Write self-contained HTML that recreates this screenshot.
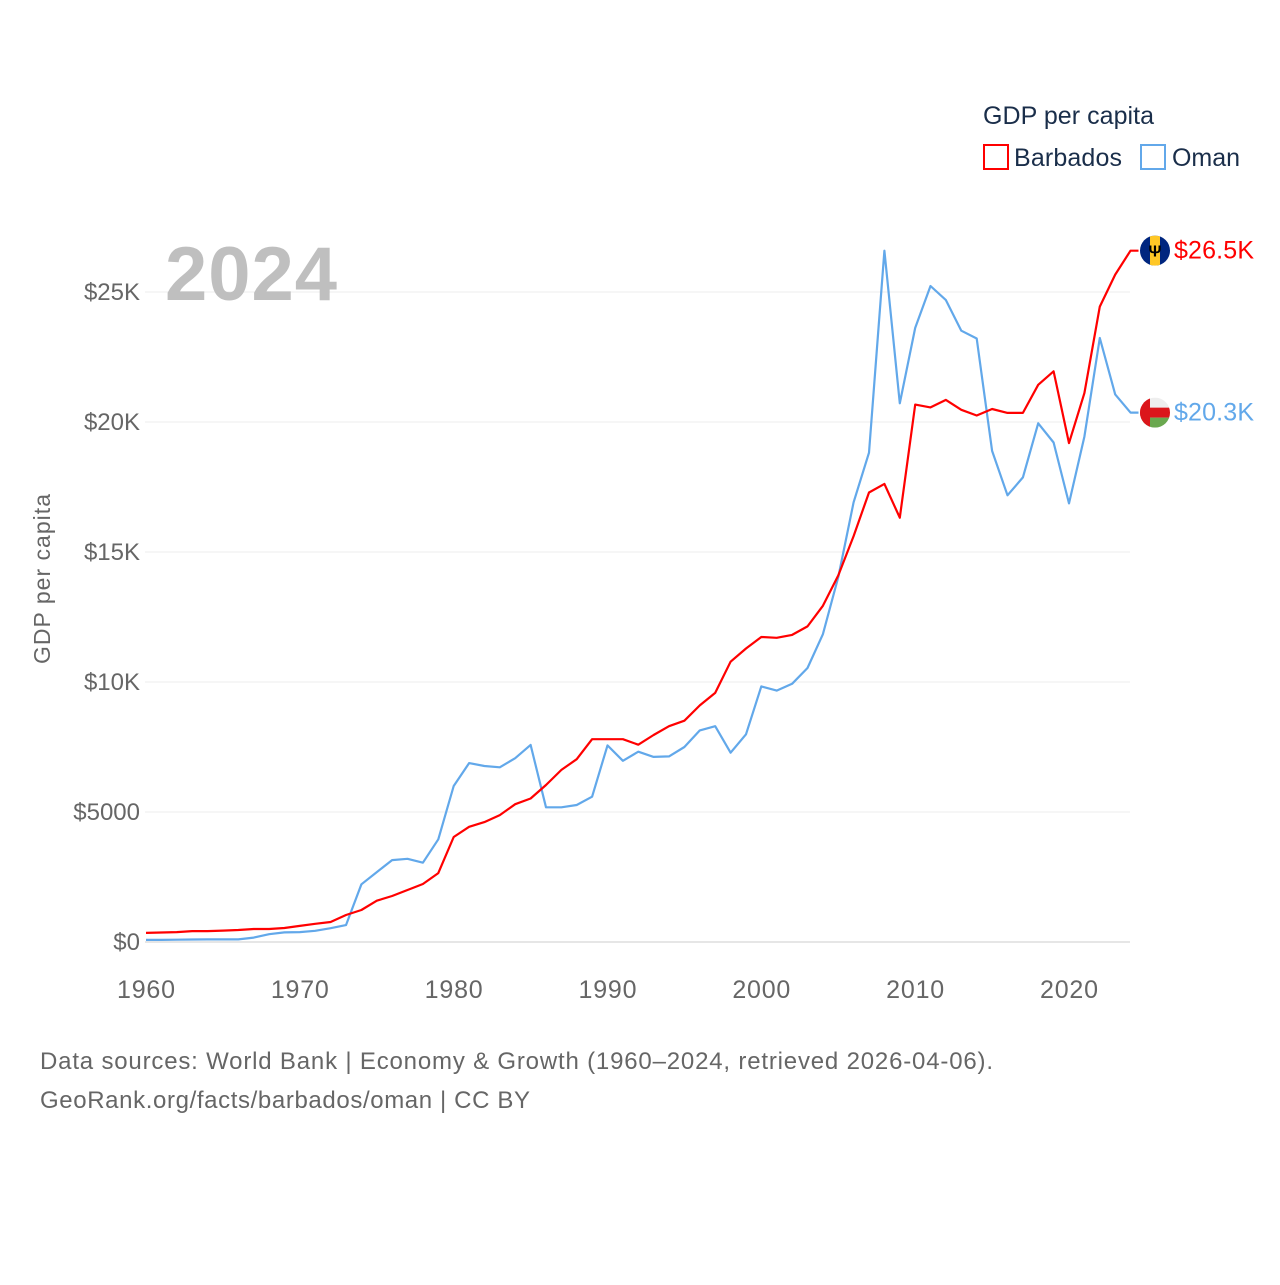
<!DOCTYPE html>
<html><head><meta charset="utf-8"><style>
body{margin:0;background:#fff;font-family:"Liberation Sans",sans-serif}
svg text{font-family:"Liberation Sans",sans-serif}
</style></head><body>
<svg width="1280" height="1280" viewBox="0 0 1280 1280" xmlns="http://www.w3.org/2000/svg">
<rect width="1280" height="1280" fill="#fff"/>
<g id="grid"></g>
<g id="yticks"></g>
<g id="xticks"></g>
<text x="165" y="300" font-size="76" font-weight="bold" fill="#bfbfbf" textLength="172">2024</text>
<text transform="translate(50,579) rotate(-90)" text-anchor="middle" font-size="23" fill="#666" textLength="170">GDP per capita</text>
<g id="series"></g>
<g>
<text x="983" y="124" font-size="25" fill="#1a2e4a" textLength="171">GDP per capita</text>
<g>
<rect x="984" y="145" width="24" height="24" fill="none" stroke="#ff0000" stroke-width="2"/>
<text x="1014" y="166" font-size="25" fill="#1a2e4a" textLength="108">Barbados</text></g>
<g>
<rect x="1141" y="145" width="24" height="24" fill="none" stroke="#62a8ea" stroke-width="2"/>
<text x="1172" y="166" font-size="25" fill="#1a2e4a" textLength="68">Oman</text></g>
</g>
<g id="endlabels"></g>
<text x="40" y="1069" font-size="24" fill="#666" textLength="953">Data sources: World Bank | Economy &amp; Growth (1960–2024, retrieved 2026-04-06).</text>
<text x="40" y="1108" font-size="24" fill="#666" textLength="490">GeoRank.org/facts/barbados/oman | CC BY</text>
</svg>
<script>
const years=[];for(let y=1960;y<=2024;y++)years.push(y);
const barbados=[350,365,380,420,420,440,460,500,500,540,620,700,770,1040,1230,1590,1770,2000,2230,2650,4040,4430,4610,4880,5300,5520,6040,6620,7030,7800,7800,7800,7590,7960,8300,8510,9100,9580,10780,11290,11730,11700,11810,12140,12930,14100,15610,17290,17620,16320,20670,20560,20850,20470,20250,20500,20350,20350,21430,21950,19190,21110,24440,25670,26590];
const oman=[80,80,90,95,100,100,100,170,300,370,380,430,530,650,2220,2690,3150,3200,3050,3950,6000,6880,6770,6720,7070,7580,5180,5180,5270,5590,7560,6970,7320,7120,7140,7500,8140,8300,7280,7990,9830,9670,9930,10540,11840,14040,16910,18820,26590,20720,23620,25230,24690,23510,23210,18890,17180,17870,19950,19210,16870,19440,23230,21060,20360];
const yTicks=[0,5000,10000,15000,20000,25000];
const yTickLabels=["$0","$5000","$10K","$15K","$20K","$25K"];
const xTicks=[1960,1970,1980,1990,2000,2010,2020];
const endLabels=["$26.5K","$20.3K"];
const NS="http://www.w3.org/2000/svg";
const X=y=>146+(y-1960)*(1069-146)/60;
const Y=v=>942-v*130/5000;
function mk(tag,attrs,parent){const e=document.createElementNS(NS,tag);for(const k in attrs)e.setAttribute(k,attrs[k]);parent.appendChild(e);return e;}
const grid=document.getElementById('grid'),yt=document.getElementById('yticks'),xt=document.getElementById('xticks');
yTicks.forEach((v,i)=>{
 const l=mk('line',{x1:145,x2:1130,y1:Y(v),y2:Y(v),stroke:i==0?'#e6e6e6':'#ececec','stroke-width':i==0?2:1},grid);
 
 
 const t=mk('text',{x:140,y:Y(v)+8,'text-anchor':'end','font-size':24,fill:'#666'},yt);
 t.textContent=yTickLabels[i];
 
 
});
xTicks.forEach(y=>{
 const t=mk('text',{x:X(y),y:998,'text-anchor':'middle','font-size':25,fill:'#666',textLength:58},xt);
 t.textContent=y;
 
 
});
const ser=document.getElementById('series');
function line(data,color,name){
 let d=data.map((v,i)=>(i?'L':'M')+X(years[i]).toFixed(1)+','+Y(v).toFixed(1)).join(' ');
 d+=' L'+(X(2024)+8).toFixed(1)+','+Y(data[data.length-1]).toFixed(1);
 const p=mk('path',{d:d,fill:'none',stroke:color,'stroke-width':2.2,'stroke-linejoin':'round'},ser);
 
 
}
line(oman,'#62a8ea','oman-line');
line(barbados,'#ff0000','barbados-line');
const el=document.getElementById('endlabels');
function endLabel(v,txt,color,name,flag){
 const cy=Y(v),cx=1155;
 const g=mk('g',{},el);
 
 
 const cp=mk('clipPath',{id:'c'+name},g);mk('circle',{cx:cx,cy:cy,r:15},cp);
 const f=mk('g',{'clip-path':'url(#c'+name+')'},g);
 if(flag=='bb'){
  mk('rect',{x:cx-15,y:cy-15,width:30,height:30,fill:'#00267f'},f);
  mk('rect',{x:cx-5,y:cy-15,width:10,height:30,fill:'#ffc726'},f);
  const t=mk('text',{x:cx,y:cy+6,'text-anchor':'middle','font-size':16,'font-weight':'bold',fill:'#000'},f);t.textContent='Ψ';
 }else{
  mk('rect',{x:cx-15,y:cy-15,width:30,height:30,fill:'#eee'},f);
  mk('rect',{x:cx-15,y:cy-5,width:30,height:10,fill:'#db161b'},f);
  mk('rect',{x:cx-15,y:cy+5,width:30,height:10,fill:'#6aa84f'},f);
  mk('rect',{x:cx-15,y:cy-15,width:10,height:30,fill:'#db161b'},f);
 }
 const t=mk('text',{x:1174,y:cy+8,'font-size':25,fill:color,textLength:80},g);t.textContent=txt;
}
endLabel(barbados[barbados.length-1],endLabels[0],'#ff0000','barbados-end-label','bb');
endLabel(oman[oman.length-1],endLabels[1],'#62a8ea','oman-end-label','om');
</script>
</body></html>
